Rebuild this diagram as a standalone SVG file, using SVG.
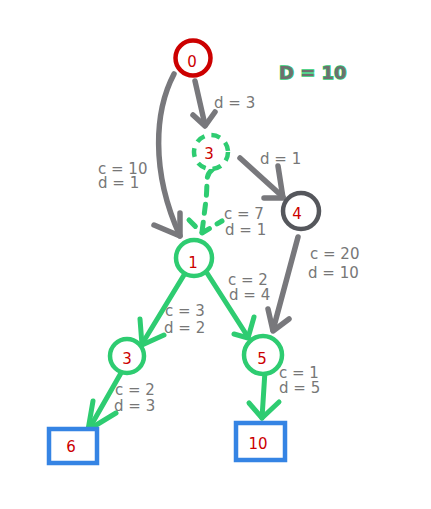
<svg xmlns="http://www.w3.org/2000/svg" width="431" height="509" viewBox="0 0 431 509">
<style>
.lbl{font-family:"DejaVu Sans",sans-serif;font-size:15px;fill:#777777}
.nl{font-family:"DejaVu Sans",sans-serif;font-size:15px;fill:#cc0000;text-anchor:middle}
.g{fill:none;stroke:#78787c;stroke-width:5.5;stroke-linecap:round;stroke-linejoin:round}
.gr{fill:none;stroke:#2ecc71;stroke-width:5;stroke-linecap:round;stroke-linejoin:round}
.dash{stroke-dasharray:9 9}
.box{fill:#ffffff;stroke:#3584e4;stroke-width:4.5}
</style>
<rect width="431" height="509" fill="#ffffff"/>
<g id="connectors">
<path class="g" d="M174,74 C155,110 150,170 180,236"/>
<path class="g" d="M154,225 L180,236 L180,213"/>
<path class="g" d="M195,81 L205,125"/>
<path class="g" d="M193,115 L205,126 L215,112"/>
<path class="g" d="M240,158 L283,197"/>
<path class="g" d="M278,166 L283,198 L264,198"/>
<path class="gr dash" d="M212,170 C205,175 208,180 206,200 L202,232"/>
<path class="gr dash" d="M189,220 L202,233 L222,221"/>
<path class="g" d="M298,237 L273,330"/>
<path class="g" d="M268,309 L273,331 L289,319"/>
<path class="gr" d="M184,275 L142,344"/>
<path class="gr" d="M140,319 L142,345 L164,335"/>
<path class="gr" d="M207,273 L248,337"/>
<path class="gr" d="M254,317 L248,338 L234,334"/>
<path class="gr" d="M121,373 L89,429"/>
<path class="gr" d="M93,401 L88,430 L116,413"/>
<path class="gr" d="M265,371 L262,418"/>
<path class="gr" d="M249,403 L262,418 L279,402"/>
</g>
<g id="node0"><circle cx="193" cy="58" r="17.5" fill="#fff" stroke="#cc0000" stroke-width="4.5"/><text class="nl" x="192" y="67">0</text></g>
<g id="node3a"><circle cx="211" cy="152" r="17" fill="#fff" stroke="#2ecc71" stroke-width="4.5" stroke-dasharray="9 7"/><text class="nl" x="209" y="159">3</text></g>
<g id="node4"><circle cx="301" cy="211" r="18" fill="#fff" stroke="#55575c" stroke-width="4.5"/><text class="nl" x="297" y="219">4</text></g>
<g id="node1"><circle cx="194" cy="258" r="18" fill="#fff" stroke="#2ecc71" stroke-width="4.5"/><text class="nl" x="193" y="268">1</text></g>
<g id="node3b"><circle cx="127" cy="356" r="17" fill="#fff" stroke="#2ecc71" stroke-width="4.5"/><text class="nl" x="127" y="364">3</text></g>
<g id="node5"><circle cx="263" cy="355" r="19" fill="#fff" stroke="#2ecc71" stroke-width="4.5"/><text class="nl" x="262" y="364">5</text></g>
<g id="node6"><rect class="box" x="49" y="429" width="48" height="34"/><text class="nl" x="71" y="452">6</text></g>
<g id="node10"><rect class="box" x="236" y="423" width="49" height="37"/><text class="nl" x="258" y="449">10</text></g>
<g id="labels">
<text class="lbl" x="214" y="108">d = 3</text>
<text class="lbl" x="98" y="174">c = 10</text>
<text class="lbl" x="98" y="188">d = 1</text>
<text class="lbl" x="260" y="164">d = 1</text>
<text class="lbl" x="224" y="219">c = 7</text>
<text class="lbl" x="225" y="235">d = 1</text>
<text class="lbl" x="310" y="259">c = 20</text>
<text class="lbl" x="308" y="278">d = 10</text>
<text class="lbl" x="228" y="285">c = 2</text>
<text class="lbl" x="229" y="300">d = 4</text>
<text class="lbl" x="165" y="316">c = 3</text>
<text class="lbl" x="164" y="333">d = 2</text>
<text class="lbl" x="279" y="378">c = 1</text>
<text class="lbl" x="279" y="393">d = 5</text>
<text class="lbl" x="115" y="395">c = 2</text>
<text class="lbl" x="114" y="411">d = 3</text>
<text x="279" y="79" font-family="DejaVu Sans, sans-serif" font-size="18" font-weight="bold" fill="#6f6f6f" stroke="#2ecc71" stroke-width="1.5" paint-order="stroke">D = 10</text>
</g>
</svg>
